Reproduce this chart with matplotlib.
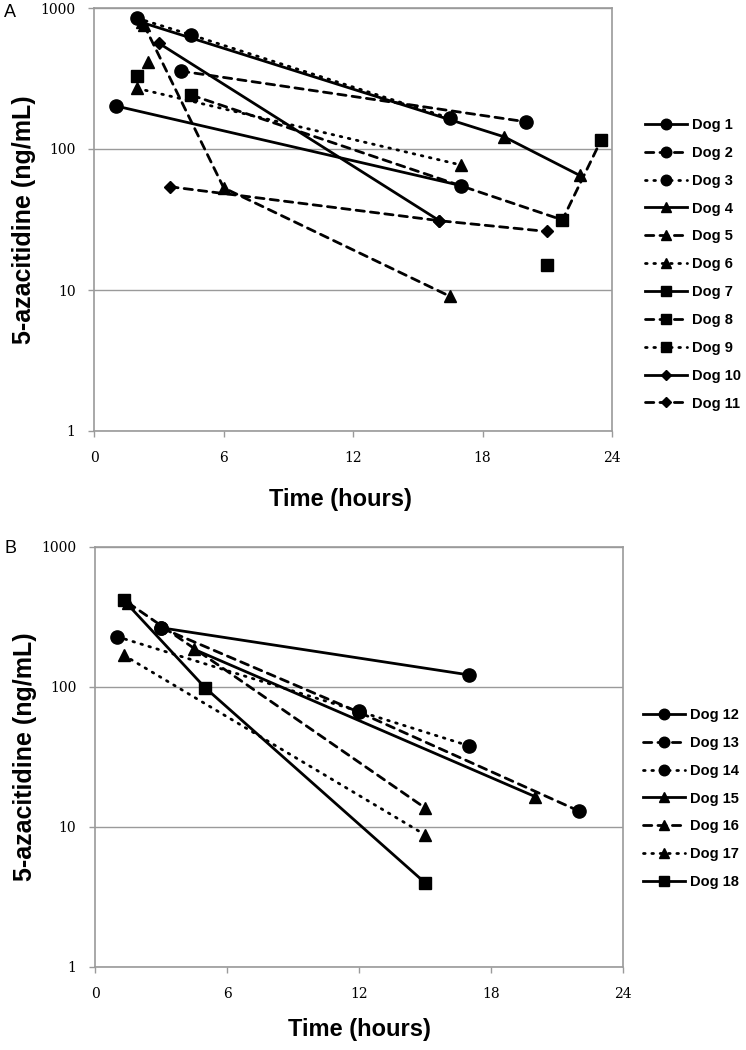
import matplotlib
matplotlib.use("Agg")
import matplotlib.pyplot as plt
from matplotlib.lines import Line2D

# Panel A - dogs 1 to 11 (time in hours, 5-azacitidine in ng/mL)
dogs_a = ["Dog 1", "Dog 2", "Dog 3", "Dog 4", "Dog 5", "Dog 6",
          "Dog 7", "Dog 8", "Dog 9", "Dog 10", "Dog 11"]
times_a = [
    [1.0, 17.0],
    [4.0, 20.0],
    [2.0, 4.5, 16.5],
    [2.2, 19.0, 22.5],
    [2.3, 6.0, 16.5],
    [2.5, float("nan"), 2.0, 17.0],
    [21.0],
    [4.5, 21.7, 23.5],
    [2.0],
    [3.0, 16.0],
    [3.5, 16.0, 21.0],
]
conc_a = [
    [202, 55],
    [357, 156],
    [845, 644, 165],
    [790, 122, 65],
    [760, 53, 9],
    [416, float("nan"), 269, 77],
    [15],
    [241, 31.4, 116],
    [330],
    [562, 31],
    [54, 31, 26],
]

# Panel B - dogs 12 to 18
dogs_b = ["Dog 12", "Dog 13", "Dog 14", "Dog 15", "Dog 16", "Dog 17", "Dog 18"]
times_b = [
    [3.0, 17.0],
    [3.0, 12.0, 22.0],
    [1.0, 12.0, 17.0],
    [4.5, 20.0],
    [1.5, 15.0],
    [1.3, 15.0],
    [1.3, 5.0, 15.0],
]
conc_b = [
    [265, 122],
    [265, 66, 13],
    [229, 67, 38],
    [186, 16.5],
    [400, 13.7],
    [169, 8.8],
    [418, 99, 4.0],
]

x_ticks = [0, 6, 12, 18, 24]
y_ticks = [1, 10, 100, 1000]

line_styles = ["-", (0, (3, 2.2)), (0, (0.6, 2.4))]
marker_styles = ["o", "^", "s", "D"]
marker_sizes = {"o": 9.5, "^": 9, "s": 9, "D": 6.5}
GRAY = "#9a9a9a"


def style_for(i):
    ls = line_styles[i % 3]
    mk = marker_styles[i // 3]
    return ls, mk


def draw_panel(ax, names, times, concs):
    handles = []
    for i, (name, t, c) in enumerate(zip(names, times, concs)):
        ls, mk = style_for(i)
        ax.plot(t, c, color="black", linestyle=ls, linewidth=2.0,
                marker=mk, markersize=marker_sizes[mk], dash_capstyle="round",
                clip_on=False, zorder=3)
        handles.append(Line2D([], [], color="black", linestyle=ls, linewidth=2.0,
                              marker=mk, markersize=marker_sizes[mk] * 0.8,
                              dash_capstyle="round"))
    ax.set_yscale("log")
    ax.set_ylim(1, 1000)
    ax.set_xlim(0, 24)
    ax.set_xticks(x_ticks)
    ax.set_xticklabels([str(v) for v in x_ticks])
    ax.set_yticks(y_ticks)
    ax.set_yticklabels([str(v) for v in y_ticks])
    ax.yaxis.set_minor_locator(matplotlib.ticker.NullLocator())
    ax.grid(axis="y", which="major", color=GRAY, linewidth=1.0)
    ax.set_axisbelow(True)
    for sp in ax.spines.values():
        sp.set_color(GRAY)
        sp.set_linewidth(1.2)
    ax.tick_params(axis="both", direction="out", length=4.5, width=1.0, color=GRAY,
                   labelsize=10, labelcolor="black")
    ax.tick_params(axis="x", pad=10)
    ax.tick_params(axis="y", pad=9)
    for lab in ax.get_xticklabels() + ax.get_yticklabels():
        lab.set_family("DejaVu Serif")
    ax.set_ylabel("5-azacitidine (ng/mL)", fontsize=18, fontweight="bold",
                  family="Liberation Sans")
    ax.set_xlabel("Time (hours)", fontsize=17, fontweight="bold",
                  family="Liberation Sans")
    return handles


fig = plt.figure(figsize=(7.46, 10.5), dpi=100)

ax_a = fig.add_axes([94.3 / 746, 1 - 431 / 1050, 517.7 / 746, 423 / 1050])
ax_b = fig.add_axes([95 / 746, 1 - 967 / 1050, 528 / 746, 420 / 1050])

h_a = draw_panel(ax_a, dogs_a, times_a, conc_a)
h_b = draw_panel(ax_b, dogs_b, times_b, conc_b)

ax_a.yaxis.set_label_coords(-0.112, 0.5)
ax_b.yaxis.set_label_coords(-0.110, 0.5)
ax_a.xaxis.set_label_coords(0.475, -0.135)
ax_b.xaxis.set_label_coords(0.5, -0.122)

leg_kw = dict(loc="upper left", frameon=False, borderpad=0, borderaxespad=0,
              handlelength=2.9, handletextpad=0.3, numpoints=1, labelspacing=0.95,
              prop={"family": "Liberation Sans", "weight": "bold", "size": 10.5})
fig.legend(h_a, dogs_a, bbox_to_anchor=(645 / 746, 1 - 118 / 1050), **leg_kw)
fig.legend(h_b, dogs_b, bbox_to_anchor=(643 / 746, 1 - 708 / 1050), **leg_kw)

fig.text(4 / 746, 1 - 4 / 1050, "A", fontsize=13, va="top", ha="left",
         family="Liberation Sans")
fig.text(4 / 746, 1 - 540 / 1050, "B", fontsize=13, va="top", ha="left",
         family="Liberation Sans")

fig.savefig("out.png", dpi=100)
